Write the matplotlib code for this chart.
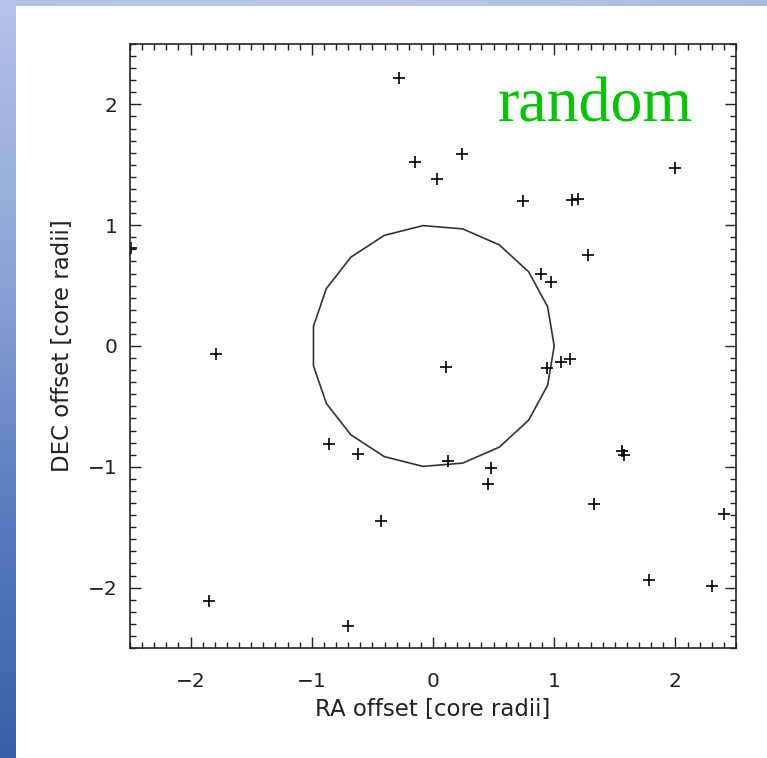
import numpy as np
import matplotlib
matplotlib.use("Agg")
import matplotlib.pyplot as plt
from matplotlib.patches import RegularPolygon
from matplotlib.ticker import MultipleLocator

# source positions, in units of the core radius
ra_offset = [-0.28, -0.15, 0.03, 0.24, 0.74, 1.15, 1.20, 2.00, 1.28, 0.89, 0.97,
             -2.49, -1.79, -0.86, -0.62, -0.43, -1.85, -0.70,
             0.11, 0.94, 1.06, 1.13, 0.12, 0.48, 0.45, 1.56, 1.58, 1.33,
             2.40, 1.78, 2.30]
dec_offset = [2.22, 1.52, 1.38, 1.59, 1.20, 1.21, 1.22, 1.47, 0.75, 0.60, 0.53,
              0.81, -0.07, -0.81, -0.89, -1.45, -2.11, -2.32,
              -0.17, -0.18, -0.13, -0.11, -0.95, -1.01, -1.14, -0.87, -0.90, -1.31,
              -1.39, -1.94, -1.99]

core_radius = 1.0
circle_sides = 19
tick_values = [-2, -1, 0, 1, 2]
label_text = "random"

plt.rcParams['font.family'] = ['DejaVu Sans']

fig = plt.figure(figsize=(7.67, 7.58), dpi=100)
fig.patch.set_facecolor("white")

# slide background strips (left and top)
bg = fig.add_axes([0, 0, 16 / 767, 1])
grad = np.linspace(0, 1, 256).reshape(-1, 1)
bg.imshow(grad, aspect="auto", cmap=matplotlib.colors.LinearSegmentedColormap.from_list(
    "slide", ["#3a5fa6", "#5a7dc0", "#8fa8da", "#b3c3e9"]), origin="lower")
bg.axis("off")
bgt = fig.add_axes([0, 1 - 6 / 758, 1, 6 / 758])
bgt.imshow(np.linspace(0, 1, 256).reshape(1, -1), aspect="auto",
           cmap=matplotlib.colors.LinearSegmentedColormap.from_list(
               "slidetop", ["#b3c3e9", "#bac6e6", "#a9bbe4"]))
bgt.axis("off")

ax = fig.add_axes([130 / 767, 1 - 648 / 758, 606 / 767, 604 / 758])

ax.add_patch(RegularPolygon((0, 0), numVertices=circle_sides, radius=core_radius,
                            orientation=-np.pi / 2, fill=False,
                            edgecolor="#333333", linewidth=1.2))
ax.plot(ra_offset, dec_offset, linestyle="none", marker="+", color="black",
        markersize=8, markeredgewidth=1.2)

ax.set_xlim(-2.5, 2.5)
ax.set_ylim(-2.5, 2.5)
ax.set_xticks(tick_values)
ax.set_yticks(tick_values)
ax.xaxis.set_minor_locator(MultipleLocator(0.1))
ax.yaxis.set_minor_locator(MultipleLocator(0.1))
ax.tick_params(which="both", direction="in", top=True, right=True, color="#222222")
ax.tick_params(which="major", length=8, width=1.0, labelsize=14.5, labelcolor="#222222")
ax.tick_params(which="minor", length=4, width=1.0)
ax.tick_params(axis="x", which="major", pad=17)
ax.tick_params(axis="y", which="major", pad=9)
for s in ax.spines.values():
    s.set_linewidth(1.2)
    s.set_color("#222222")

ax.set_xlabel("RA offset [core radii]", fontsize=16.5, labelpad=5, color="#222222")
ax.set_ylabel("DEC offset [core radii]", fontsize=16.5, labelpad=10, color="#222222")

ax.text(0.929, 0.871, label_text, transform=ax.transAxes, ha="right", va="baseline",
        fontsize=46, color="#00c400", family=["Liberation Serif", "DejaVu Serif"])

fig.savefig("out.png", dpi=100)
